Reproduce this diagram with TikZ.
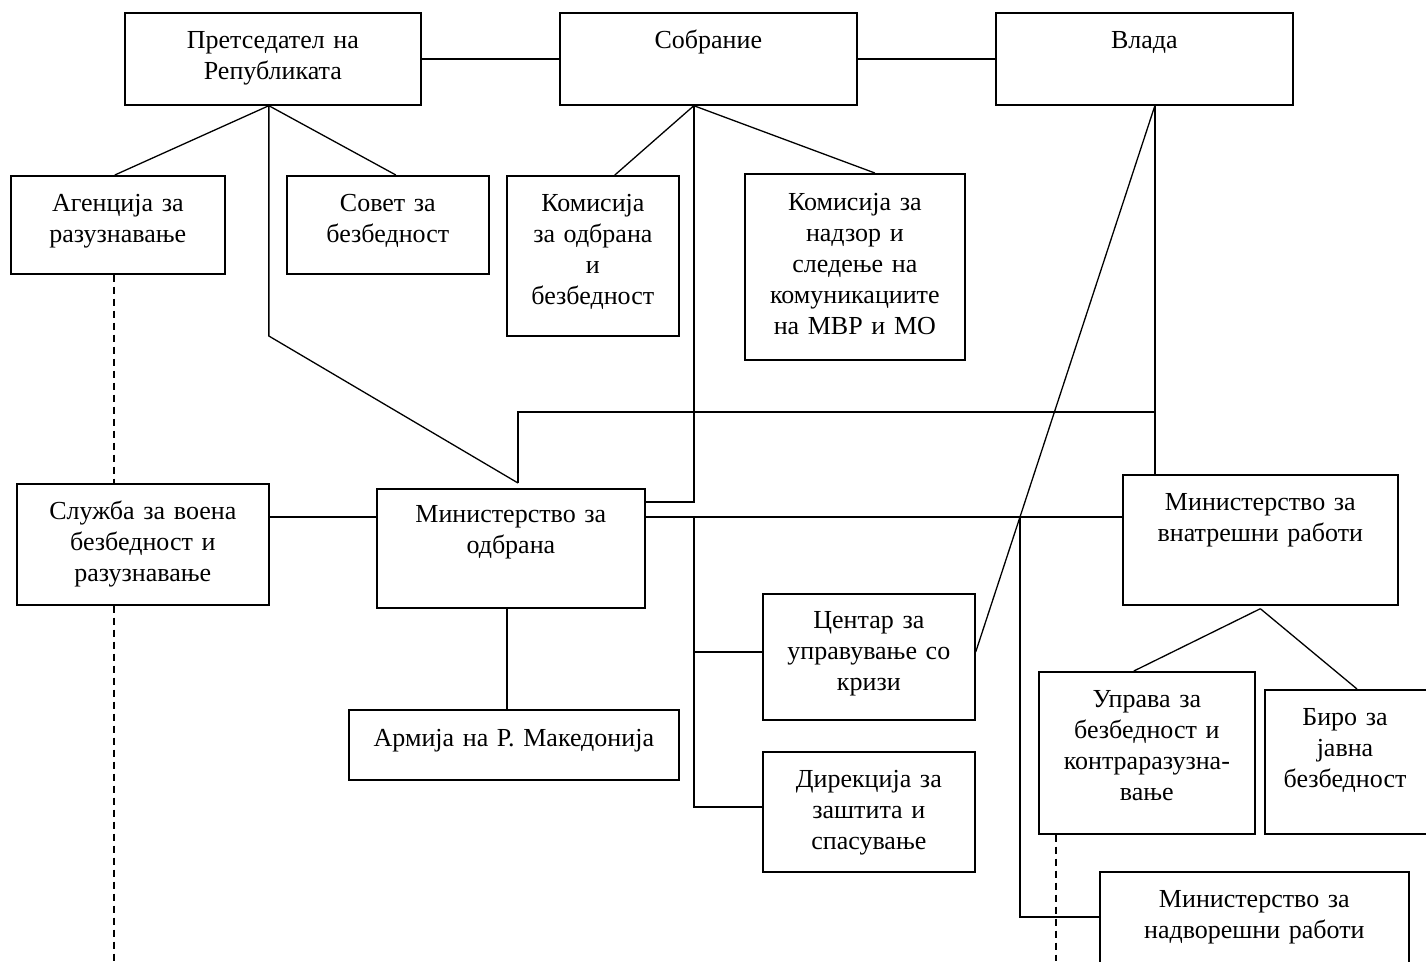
\documentclass[tikz,border=0pt]{standalone}
\usepackage{fontspec}
\setmainfont{Liberation Serif}
\begin{document}
\begin{tikzpicture}[x=1pt,y=-1pt,
  box/.style={draw, line width=1.7pt, rectangle, inner sep=0pt, anchor=north west},
  txt/.style={align=center, text width=#1, inner sep=0pt, anchor=base, font=\fontsize{26}{31}\selectfont},
  txt/.default=300pt,
  conn/.style={line width=1.3pt},
  dsh/.style={line width=1.3pt, dash pattern=on 7pt off 5pt}]
\useasboundingbox (0,0) rectangle (1426,961);
\clip (0,0) rectangle (1426,961);
% boxes
\node[box, minimum width=296pt, minimum height=92pt] (pres) at (124,12) {};
\node[box, minimum width=297pt, minimum height=92pt] (sobr) at (559,12) {};
\node[box, minimum width=297pt, minimum height=92pt] (vlada) at (995,12) {};
\node[box, minimum width=214pt, minimum height=98pt] (agen) at (10,175) {};
\node[box, minimum width=202pt, minimum height=98pt] (sovet) at (286,175) {};
\node[box, minimum width=172pt, minimum height=160pt] (kom1) at (506,175) {};
\node[box, minimum width=220pt, minimum height=186pt] (kom2) at (744,173) {};
\node[box, minimum width=252pt, minimum height=121pt] (sluz) at (16,483) {};
\node[box, minimum width=268pt, minimum height=119pt] (mo) at (376,488) {};
\node[box, minimum width=330pt, minimum height=70pt] (armija) at (348,709) {};
\node[box, minimum width=212pt, minimum height=126pt] (centar) at (762,593) {};
\node[box, minimum width=212pt, minimum height=120pt] (direk) at (762,751) {};
\node[box, minimum width=275pt, minimum height=130pt] (mvr) at (1122,474) {};
\node[box, minimum width=216pt, minimum height=162pt] (uprava) at (1038,671) {};
\node[box, minimum width=180pt, minimum height=144pt] (biro) at (1264,689) {};
\node[box, minimum width=309pt, minimum height=110pt] (mnr) at (1099,871) {};
% texts
\node[txt] (presT) at ([yshift=-36pt]pres.north) {Претседател на\\Републиката};
\node[txt] (sobrT) at ([yshift=-36pt]sobr.north) {Собрание};
\node[txt] (vladaT) at ([yshift=-36pt]vlada.north) {Влада};
\node[txt] (agenT) at ([yshift=-36pt]agen.north) {Агенција за\\разузнавање};
\node[txt] (sovetT) at ([yshift=-36pt]sovet.north) {Совет за\\безбедност};
\node[txt] (kom1T) at ([yshift=-36pt]kom1.north) {Комисија\\за одбрана\\и\\безбедност};
\node[txt] (kom2T) at ([yshift=-37pt]kom2.north) {Комисија за\\надзор и\\следење на\\комуникациите\\на МВР и МО};
\node[txt] (sluzT) at ([yshift=-36pt]sluz.north) {Служба за воена\\безбедност и\\разузнавање};
\node[txt] (moT) at ([yshift=-34pt]mo.north) {Министерство за\\одбрана};
\node[txt] (armijaT) at ([yshift=-37pt]armija.north) {Армија на Р. Македонија};
\node[txt] (centarT) at ([yshift=-35pt]centar.north) {Центар за\\управување со\\кризи};
\node[txt] (direkT) at ([yshift=-36pt]direk.north) {Дирекција за\\заштита и\\спасување};
\node[txt] (mvrT) at ([yshift=-36pt]mvr.north) {Министерство за\\внатрешни работи};
\node[txt] (upravaT) at ([yshift=-36pt]uprava.north) {Управа за\\безбедност и\\контраразузна-\\вање};
\node[txt] (biroT) at (1345,725) {Биро за\\јавна\\безбедност};
\node[txt] (mnrT) at ([yshift=-36pt]mnr.north) {Министерство за\\надворешни работи};
% connector points
\coordinate (pa) at ([xshift=-4pt]pres.south);
\coordinate (pk) at (pa |- 0,336);
\coordinate (mtop) at (518,483);
\coordinate (sa) at ([xshift=-14.5pt]sobr.south);
\coordinate (va) at ([xshift=10.5pt]vlada.south);
\coordinate (ma) at ([yshift=-3pt]mvr.south);
\coordinate (fork) at (1020,517);
% connectors
\draw[conn] (pres.east) -- (sobr.west);
\draw[conn] (sobr.east) -- (vlada.west);
\draw[conn] (pa) -- ([xshift=-3pt]agen.north);
\draw[conn] (pa) -- ([xshift=8pt]sovet.north);
\draw[conn] (pa) -- (pk) -- (mtop);
\draw[conn] (sa) -- ([xshift=22pt]kom1.north);
\draw[conn] (sa) -- ([xshift=20pt]kom2.north);
\draw[conn] (sa) -- (sa |- 0,502) -- (mo.east |- 0,502);
\draw[conn] (va) -- (va |- mvr.north);
\draw[conn] (va) -- (centar.east |- 0,652);
\draw[conn] (va |- 0,412) -- (mtop |- 0,412) -- (mtop);
\draw[conn] (sluz.east |- 0,517) -- (mo.west |- 0,517);
\draw[conn] (mo.east |- 0,517) -- (mvr.west |- 0,517);
\draw[conn] (sa |- 0,517) -- (sa |- 0,807) -- (direk.west |- 0,807);
\draw[conn] (sa |- 0,652) -- (centar.west |- 0,652);
\draw[conn] (fork) -- (fork |- 0,917) -- (mnr.west |- 0,917);
\draw[conn] ([xshift=-4pt]mo.south) -- ([xshift=-4pt]mo.south |- armija.north);
\draw[conn] (ma) -- ([xshift=-13pt]uprava.north);
\draw[conn] (ma) -- (biro.north -| 1357,0);
\draw[dsh] (agen.south -| 114,0) -- (sluz.north -| 114,0);
\draw[dsh] (sluz.south -| 114,0) -- (114,961);
\draw[dsh] (uprava.south -| 1056,0) -- (1056,961);
\end{tikzpicture}
\end{document}
